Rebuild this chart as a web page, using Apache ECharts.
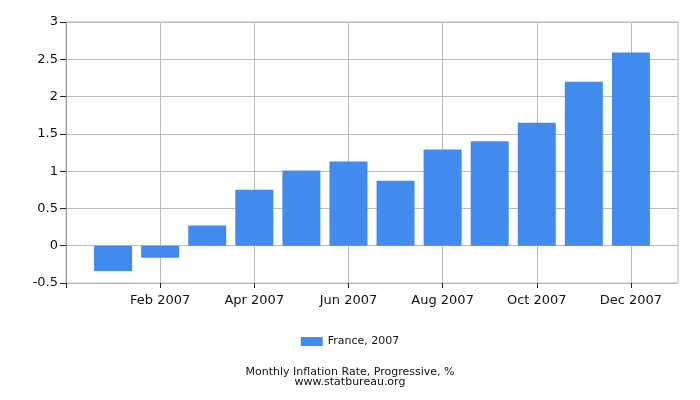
<!DOCTYPE html>
<html><head><meta charset="utf-8">
<script src="https://cdn.jsdelivr.net/npm/echarts@6/dist/echarts.min.js"></script>
<style>html,body{margin:0;padding:0;background:#fff}#c{width:700px;height:400px}</style>
</head><body><div id="c"></div>
<script>
const categories = ['Jan 2007','Feb 2007','Mar 2007','Apr 2007','May 2007','Jun 2007','Jul 2007','Aug 2007','Sep 2007','Oct 2007','Nov 2007','Dec 2007'];
const values = [-0.34,-0.16,0.27,0.75,1.01,1.13,0.87,1.29,1.40,1.65,2.20,2.59];
const seriesName = 'France, 2007';
const yTicks = [-0.5,0,0.5,1,1.5,2,2.5,3];
const xTickPositions = [0,2,4,6,8,10,12];
const FONT = 'DejaVu Sans';
const chart = echarts.init(document.getElementById('c'));
chart.setOption({
  animation:false,
  textStyle:{fontFamily:FONT},
  grid:{left:66,right:22,top:22,bottom:117,show:true,borderColor:'#bbb',borderWidth:1},
  title:{text:'Monthly Inflation Rate, Progressive, %\nwww.statbureau.org',left:'center',top:362,
    textStyle:{fontFamily:FONT,fontSize:11,fontWeight:'normal',color:'#111',lineHeight:10}},
  legend:{data:[seriesName],top:331,left:'center',icon:'rect',itemWidth:22,itemHeight:9,itemGap:5,
    textStyle:{fontFamily:FONT,fontSize:11,color:'#111'}},
  xAxis:{type:'value',min:0,max:categories.length+1,interval:2,
    axisLine:{show:false,onZero:false},
    axisTick:{show:true,length:5,customValues:xTickPositions,lineStyle:{color:'#222'}},
    axisLabel:{customValues:xTickPositions,formatter:(v)=>categories[v-1]||'',fontFamily:FONT,fontSize:13,color:'#111',margin:11},
    splitLine:{show:true,lineStyle:{color:'#bbb'}}},
  yAxis:{type:'value',min:yTicks[0],max:yTicks[yTicks.length-1],interval:0.5,
    axisLine:{show:true,lineStyle:{color:'#999'}},
    axisTick:{show:true,length:6,lineStyle:{color:'#222'}},
    axisLabel:{fontFamily:FONT,fontSize:13,color:'#111',margin:8},
    splitLine:{show:true,lineStyle:{color:'#bbb'}}},
  series:[{name:seriesName,type:'bar',data:values.map((v,i)=>[i+1,v]),barWidth:38,
    itemStyle:{color:'#418BEE'}}]
});
</script></body></html>
